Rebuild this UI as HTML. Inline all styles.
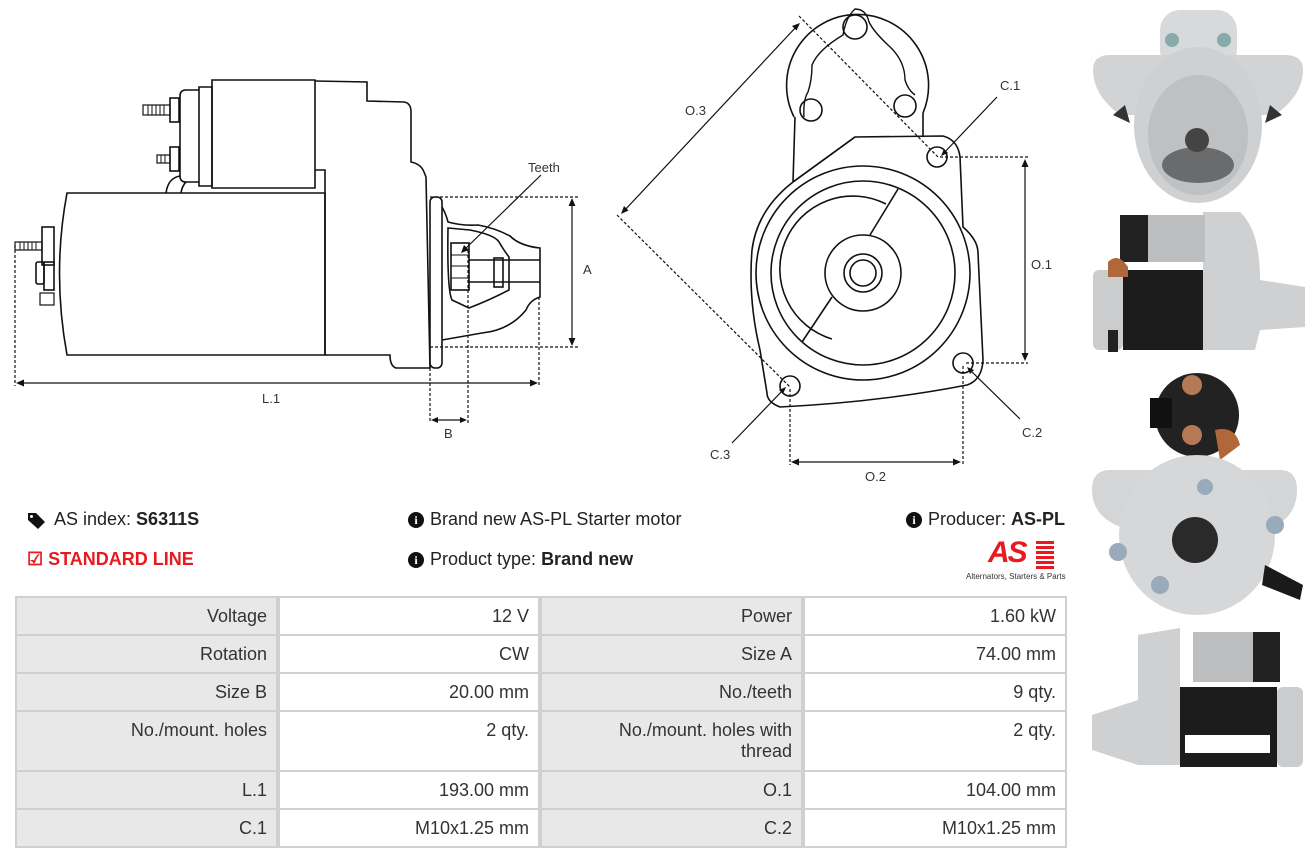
<!DOCTYPE html>
<html><head><meta charset="utf-8"><style>
body{margin:0;width:1316px;height:860px;background:#fff;position:relative;overflow:hidden;font-family:"Liberation Sans",sans-serif;color:#222}
.t{position:absolute;font-size:18px;white-space:nowrap}
.c{position:absolute;box-sizing:border-box;font-size:18px;color:#333;text-align:right;padding:8px 9px 0 0;line-height:21px}
.g{background:#e8e8e8}
.i{display:inline-block;width:16px;height:16px;border-radius:8px;background:#111;color:#fff;font-size:12px;font-weight:bold;text-align:center;line-height:16px;vertical-align:1px;margin-right:6px;font-family:"Liberation Serif",serif}
</style></head><body>
<svg width="1316" height="860" style="position:absolute;left:0;top:0" fill="none" stroke="#111" stroke-width="1.6">
<!-- LEFT DRAWING -->
<path d="M67,193 L325,193 L325,355 L67,355 Q52,273 67,193 Z" fill="#fff"/>
<path d="M199,87 L212,87 L212,186 L199,186 Z"/>
<path d="M199,90 L186,90 Q180,90 180,96 L180,176 Q180,182 186,182 L199,182"/>
<path d="M212,80 L315,80 L315,188 L212,188 Z"/>
<path d="M180,176 Q168,178 166,193 M186,182 Q182,186 181,193"/>
<rect x="170" y="98" width="9" height="24"/><rect x="143" y="105" width="27" height="10" stroke-width="1.2"/>
<path d="M148,105v10M152,105v10M156,105v10M160,105v10M164,105v10" stroke-width="1"/>
<rect x="170" y="147" width="9" height="24"/><rect x="157" y="155" width="13" height="8" stroke-width="1.2"/>
<path d="M161,155v8M165,155v8" stroke-width="1"/>
<path d="M315,81 L367,82 L367,101 L404,102 Q411,103 411,112 L411,162 Q421,164 424,172 L426,177 L430,368 L396,368 Q390,366 390,355 L325,355"/>
<path d="M315,170 L325,170 L325,355"/>
<rect x="430" y="197" width="12" height="171" rx="5"/>
<path d="M442,207 Q446,214 448,222 Q462,226 478,225 Q495,228 510,236 Q520,246 540,248 L540,297 Q530,300 526,310 Q510,330 482,333 L442,340"/>
<path d="M448,228 L470,230 Q495,235 499,242 Q505,252 509,257 L509,290 Q490,300 469,308 L452,300 Q447,290 448,228 Z"/>
<rect x="451" y="243" width="18" height="47"/>
<path d="M451,255h18M451,266h18M451,278h18" stroke-width="1"/>
<path d="M469,260 L540,260 M469,282 L540,282"/>
<rect x="494" y="258" width="9" height="29"/>
<rect x="42" y="227" width="12" height="38"/><rect x="15" y="242" width="27" height="8" stroke-width="1.2"/>
<path d="M20,242v8M24,242v8M28,242v8M32,242v8M36,242v8" stroke-width="1"/>
<rect x="36" y="262" width="8" height="22" rx="2"/><rect x="44" y="262" width="10" height="28"/>
<rect x="40" y="293" width="14" height="12" stroke-width="1.2"/>
<g stroke-dasharray="3,2" stroke-width="1.2">
<path d="M15,245V386M539,297V386M430,197H578M430,347H578M430,368V423M468,250V423"/>
</g>
<g stroke-width="1.2">
<path d="M20,383H534M572,201V343M435,420H463M541,175L464,250"/>
</g>
<g fill="#111" stroke="none">
<path d="M16,383l8,-3.5v7z"/><path d="M538,383l-8,-3.5v7z"/>
<path d="M572,198l-3.5,8h7z"/><path d="M572,346l-3.5,-8h7z"/>
<path d="M431,420l7,-3v6z"/><path d="M467,420l-7,-3v6z"/>
<path d="M461,253l3,-8l5,5z"/>
</g>
<!-- MIDDLE DRAWING -->
<path d="M794,117 A71,71 0 1 1 923,113" />
<path d="M793,182 L795,117 M923,113 L923,137"/>
<path d="M804,117 Q803,100 808,92 Q812,80 812,65 Q818,50 843,35 Q846,17 855,9 Q866,9 869,22 Q874,32 888,45 Q905,60 905,80 Q908,90 915,95" stroke-width="1.4"/>
<circle cx="855" cy="27" r="12"/><circle cx="811" cy="110" r="11"/><circle cx="905" cy="106" r="11"/>
<path d="M855,137 L943,136 Q958,140 960,157 L963,227 Q978,240 978,253 L983,360 Q982,380 967,385 Q880,402 780,407 Q767,402 767,393 L760,350 Q748,300 752,250 Q757,210 793,182 Z" fill="#fff"/>
<path d="M855,137 L793,182"/>
<circle cx="863" cy="273" r="107"/>
<circle cx="863" cy="273" r="92"/>
<path d="M886,204 A73,73 0 1 0 832,339"/>
<path d="M898,189 L870,235 M832,297 L802,342"/>
<circle cx="863" cy="273" r="38"/><circle cx="863" cy="273" r="19"/><circle cx="863" cy="273" r="13"/>
<circle cx="937" cy="157" r="10"/><circle cx="963" cy="363" r="10"/><circle cx="790" cy="386" r="10"/>
<g stroke-dasharray="3,2" stroke-width="1.2">
<path d="M940,157H1028M966,363H1028M790,389V465M963,366V465M799,16L938,157M617,215L790,387"/>
</g>
<g stroke-width="1.2">
<path d="M1025,162V358M794,462H958M797,26L624,211M997,97L942,155M1020,419L968,368M732,443L785,388"/>
</g>
<g fill="#111" stroke="none">
<path d="M1025,159l-3.5,8h7z"/><path d="M1025,361l-3.5,-8h7z"/>
<path d="M791,462l8,-3.5v7z"/><path d="M961,462l-8,-3.5v7z"/>
<path d="M800,23l-8,3l4.5,4.5z"/><path d="M621,214l3,-8l4.5,4.5z"/>
<path d="M941,156l3,-7l4,4z"/><path d="M967,367l7,3l-4,4z"/><path d="M786,387l-3,7l-4,-4z"/>
</g>
<!-- PHOTOS -->
<g stroke="none">
<rect x="1160" y="10" width="77" height="60" rx="20" fill="#d8d9db"/>
<path d="M1093,70 Q1093,55 1110,55 L1285,55 Q1303,55 1303,70 Q1303,95 1275,115 L1120,115 Q1093,95 1093,70Z" fill="#d2d3d5"/>
<ellipse cx="1198" cy="125" rx="64" ry="78" fill="#cfd0d2"/>
<ellipse cx="1198" cy="135" rx="50" ry="60" fill="#bfc0c2"/>
<ellipse cx="1198" cy="165" rx="36" ry="18" fill="#6a6b6d"/>
<circle cx="1197" cy="140" r="12" fill="#444"/>
<circle cx="1172" cy="40" r="7" fill="#8aa"/><circle cx="1224" cy="40" r="7" fill="#8aa"/>
<path d="M1113,115l12,-10l5,18z M1282,115l-12,-10l-5,18z" fill="#333"/>
<rect x="1093" y="270" width="30" height="80" rx="6" fill="#cbccce"/>
<rect x="1123" y="270" width="95" height="80" fill="#1c1c1c"/>
<path d="M1203,212 L1240,212 Q1260,230 1260,280 L1305,287 L1305,327 L1260,330 L1255,350 L1203,350 Z" fill="#cfd0d2"/>
<rect x="1148" y="215" width="57" height="47" fill="#bdbec0"/>
<rect x="1120" y="215" width="28" height="47" fill="#222"/>
<rect x="1108" y="330" width="10" height="22" fill="#222"/>
<path d="M1108,262 q10,-10 20,5 v10 h-20z" fill="#b0683a"/>
<circle cx="1197" cy="415" r="42" fill="#222"/>
<rect x="1150" y="398" width="22" height="30" fill="#111"/>
<circle cx="1192" cy="385" r="10" fill="#b57a55"/><circle cx="1192" cy="435" r="10" fill="#b57a55"/>
<path d="M1215,430 q20,-5 25,15 l-20,15z" fill="#b0683a"/>
<path d="M1092,490 Q1092,470 1110,470 L1280,470 Q1297,470 1297,490 Q1297,520 1265,530 L1130,530 Q1092,520 1092,490Z" fill="#d4d5d7"/>
<ellipse cx="1197" cy="535" rx="78" ry="80" fill="#d6d7d9"/>
<circle cx="1195" cy="540" r="23" fill="#2a2a2a"/>
<path d="M1265,565 L1303,585 L1300,600 L1262,585Z" fill="#1a1a1a"/>
<circle cx="1118" cy="552" r="9" fill="#9ab"/><circle cx="1275" cy="525" r="9" fill="#9ab"/><circle cx="1160" cy="585" r="9" fill="#9ab"/><circle cx="1205" cy="487" r="8" fill="#9ab"/>
<path d="M1092,715 L1138,700 L1138,635 L1180,628 L1180,765 L1138,765 L1092,750Z" fill="#cfd0d2"/>
<rect x="1180" y="687" width="97" height="80" fill="#1c1c1c"/>
<rect x="1277" y="687" width="26" height="80" rx="6" fill="#cbccce"/>
<rect x="1193" y="632" width="60" height="50" fill="#bdbec0"/>
<rect x="1253" y="632" width="27" height="50" fill="#222"/>
<rect x="1185" y="735" width="85" height="18" fill="#fff"/>
<!-- tag icon -->
<path d="M28,513 L36,513 L45,522 L38,529 L28,520 Z" fill="#111"/>
<circle cx="31.5" cy="516.5" r="1.5" fill="#fff"/>
</g>
</svg>
<div class="t" style="left:528px;top:160px;font-size:13px;color:#333">Teeth</div>
<div class="t" style="left:583px;top:262px;font-size:13px;color:#333">A</div>
<div class="t" style="left:262px;top:391px;font-size:13px;color:#333">L.1</div>
<div class="t" style="left:444px;top:426px;font-size:13px;color:#333">B</div>
<div class="t" style="left:685px;top:103px;font-size:13px;color:#333">O.3</div>
<div class="t" style="left:1000px;top:78px;font-size:13px;color:#333">C.1</div>
<div class="t" style="left:1031px;top:257px;font-size:13px;color:#333">O.1</div>
<div class="t" style="left:1022px;top:425px;font-size:13px;color:#333">C.2</div>
<div class="t" style="left:710px;top:447px;font-size:13px;color:#333">C.3</div>
<div class="t" style="left:865px;top:469px;font-size:13px;color:#333">O.2</div>

<div class="t" style="left:54px;top:509px">AS index: <b>S6311S</b></div>
<div class="t" style="left:27px;top:549px;color:#e8191f;font-weight:bold">☑&nbsp;STANDARD LINE</div>
<div class="t" style="left:408px;top:509px"><span class="i">i</span>Brand new AS-PL Starter motor</div>
<div class="t" style="left:408px;top:549px"><span class="i">i</span>Product type: <b>Brand new</b></div>
<div class="t" style="left:906px;top:509px"><span class="i">i</span>Producer: <b>AS-PL</b></div>
<div class="t" style="left:988px;top:536px;font-size:30px;font-weight:bold;font-style:italic;color:#e8191f;letter-spacing:-2px">AS</div>
<div style="position:absolute;left:1036px;top:541px;width:18px;height:28px;background:repeating-linear-gradient(#e8191f 0 3px,#fff 3px 5px)"></div>
<div class="t" style="left:966px;top:572px;font-size:8px;color:#333">Alternators, Starters &amp; Parts</div>

<div style="position:absolute;left:15px;top:596px;width:1052px;height:252px;background:#d0d0d0"></div>
<div class="c g" style="left:17px;top:598px;width:259px;height:36px">Voltage</div>
<div class="c" style="left:280px;top:598px;width:258px;height:36px;background:#fff">12 V</div>
<div class="c g" style="left:542px;top:598px;width:259px;height:36px">Power</div>
<div class="c" style="left:805px;top:598px;width:260px;height:36px;background:#fff">1.60 kW</div>
<div class="c g" style="left:17px;top:636px;width:259px;height:36px">Rotation</div>
<div class="c" style="left:280px;top:636px;width:258px;height:36px;background:#fff">CW</div>
<div class="c g" style="left:542px;top:636px;width:259px;height:36px">Size A</div>
<div class="c" style="left:805px;top:636px;width:260px;height:36px;background:#fff">74.00 mm</div>
<div class="c g" style="left:17px;top:674px;width:259px;height:36px">Size B</div>
<div class="c" style="left:280px;top:674px;width:258px;height:36px;background:#fff">20.00 mm</div>
<div class="c g" style="left:542px;top:674px;width:259px;height:36px">No./teeth</div>
<div class="c" style="left:805px;top:674px;width:260px;height:36px;background:#fff">9 qty.</div>
<div class="c g" style="left:17px;top:712px;width:259px;height:58px">No./mount. holes</div>
<div class="c" style="left:280px;top:712px;width:258px;height:58px;background:#fff">2 qty.</div>
<div class="c g" style="left:542px;top:712px;width:259px;height:58px">No./mount. holes with<br>thread</div>
<div class="c" style="left:805px;top:712px;width:260px;height:58px;background:#fff">2 qty.</div>
<div class="c g" style="left:17px;top:772px;width:259px;height:36px">L.1</div>
<div class="c" style="left:280px;top:772px;width:258px;height:36px;background:#fff">193.00 mm</div>
<div class="c g" style="left:542px;top:772px;width:259px;height:36px">O.1</div>
<div class="c" style="left:805px;top:772px;width:260px;height:36px;background:#fff">104.00 mm</div>
<div class="c g" style="left:17px;top:810px;width:259px;height:36px">C.1</div>
<div class="c" style="left:280px;top:810px;width:258px;height:36px;background:#fff">M10x1.25 mm</div>
<div class="c g" style="left:542px;top:810px;width:259px;height:36px">C.2</div>
<div class="c" style="left:805px;top:810px;width:260px;height:36px;background:#fff">M10x1.25 mm</div>
</body></html>
